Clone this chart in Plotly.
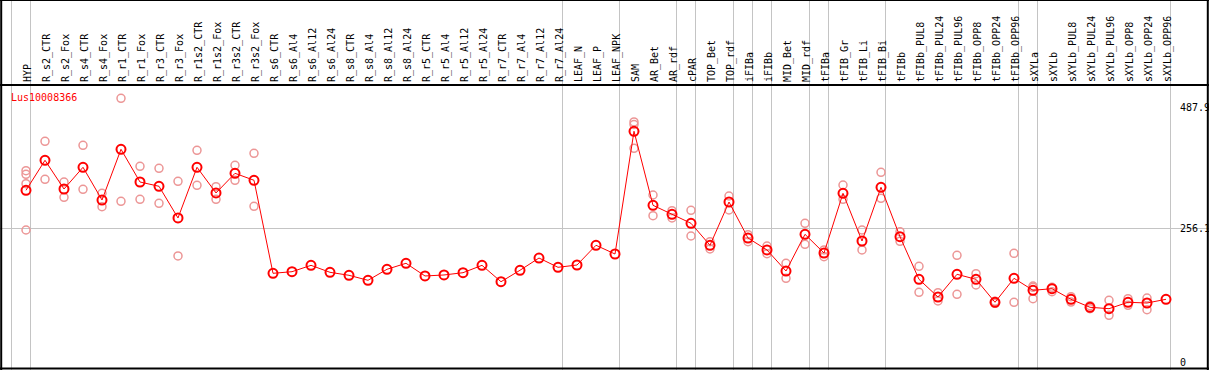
import plotly.graph_objects as go

categories = ["HYP", "R_s2_CTR", "R_s2_Fox", "R_s4_CTR", "R_s4_Fox", "R_r1_CTR", "R_r1_Fox",
              "R_r3_CTR", "R_r3_Fox", "R_r1s2_CTR", "R_r1s2_Fox", "R_r3s2_CTR", "R_r3s2_Fox",
              "R_s6_CTR", "R_s6_Al4", "R_s6_Al12", "R_s6_Al24", "R_s8_CTR", "R_s8_Al4",
              "R_s8_Al12", "R_s8_Al24", "R_r5_CTR", "R_r5_Al4", "R_r5_Al12", "R_r5_Al24",
              "R_r7_CTR", "R_r7_Al4", "R_r7_Al12", "R_r7_Al24", "LEAF_N", "LEAF_P", "LEAF_NPK",
              "SAM", "AR_Bet", "AR_rdf", "cPAR", "TOP_Bet", "TOP_rdf", "iFIBa", "iFIBb",
              "MID_Bet", "MID_rdf", "tFIBa", "tFIB_Gr", "tFIB_Li", "tFIB_Bi", "tFIBb",
              "tFIBb_PUL8", "tFIBb_PUL24", "tFIBb_PUL96", "tFIBb_OPP8", "tFIBb_OPP24",
              "tFIBb_OPP96", "sXYLa", "sXYLb", "sXYLb_PUL8", "sXYLb_PUL24", "sXYLb_PUL96",
              "sXYLb_OPP8", "sXYLb_OPP24", "sXYLb_OPP96"]

mean_values = [328.9, 386.4, 331.4, 373.0, 310.3, 407.5, 344.8, 336.6, 275.9, 373.0, 323.8,
               361.5, 348.1, 169.9, 173.0, 185.2, 171.8, 166.1, 156.5, 177.6, 189.1, 164.8,
               166.7, 171.1, 185.2, 153.8, 175.7, 199.2, 181.4, 185.8, 223.6, 206.9, 442.0,
               300.2, 283.0, 265.7, 223.6, 306.5, 237.5, 214.6, 174.3, 244.6, 208.8, 323.2,
               231.8, 334.7, 240.0, 158.4, 124.5, 168.0, 158.4, 114.4, 160.3, 137.4, 140.4,
               120.1, 104.8, 102.1, 114.4, 113.0, 120.1]

replicate_values = [
    [366.5, 359.6, 341.6, 252.9], [422.8, 350.0], [344.8, 315.5], [415.1, 330.8],
    [323.2, 297.5], [505.2, 307.9], [374.9, 311.7], [371.1, 304.0], [346.2, 203.1],
    [405.6, 338.5], [335.8, 311.7], [376.8, 348.1], [399.8, 298.3],
    [], [], [], [], [], [], [], [], [], [], [], [], [], [], [], [], [], [], [],
    [459.8, 455.0, 409.4], [319.9, 280.3], [289.8, 275.9], [290.6, 241.4], [230.5, 216.5],
    [318.0, 291.2], [243.9, 230.5], [222.2, 207.5], [189.1, 160.3], [265.7, 225.5],
    [214.6, 201.7], [339.1, 311.7], [252.9, 214.6], [363.4, 313.6], [249.6, 231.2],
    [183.3, 133.5], [132.8, 116.9], [204.4, 129.7], [169.2, 147.5], [116.3, 112.5],
    [208.2, 114.4], [145.6, 143.0, 121.3], [143.1, 134.7], [125.1, 114.9], [107.9, 102.1],
    [118.2, 89.5], [121.3, 108.6], [122.6, 100.2], [],
]

gene_id = "Lus10008366"
y_labels = [0, 256.1, 487.9]
group_breaks = [-1, 0, 28, 31, 34, 35, 37, 38, 39, 41, 42, 45, 52, 53, 60]

W, H = 1209, 370
TOP, BOT = 86, 1
col_w = 19.0
x0_px = 26.0
xr0 = -x0_px / col_w
xr1 = xr0 + W / col_w
px_per_unit = 0.522
y_zero_px = 362.0
plot_h = H - TOP - BOT
yr0 = -(H - BOT - y_zero_px) / px_per_unit
yr1 = (y_zero_px - TOP) / px_per_unit

rep_x, rep_y = [], []
for cat, reps in zip(categories, replicate_values):
    for r in reps:
        rep_x.append(cat)
        rep_y.append(r)

fig = go.Figure()
fig.add_trace(go.Scatter(
    x=rep_x, y=rep_y, mode="markers",
    marker=dict(symbol="circle-open", size=8, color="rgb(236,150,150)",
                line=dict(width=1.5, color="rgb(236,150,150)")),
    hoverinfo="x+y", showlegend=False))
fig.add_trace(go.Scatter(
    x=categories, y=mean_values, mode="lines+markers",
    line=dict(color="#ff0000", width=1),
    marker=dict(symbol="circle-open", size=9, color="#ff0000",
                line=dict(width=2, color="#ff0000")),
    showlegend=False))

shapes = []
top_paper = 1 + TOP / plot_h
bot_paper = -BOT / plot_h
for b in group_breaks:
    xv = b + 4.5 / col_w
    shapes.append(dict(type="line", xref="x", yref="paper", x0=xv, x1=xv,
                       y0=bot_paper, y1=top_paper, line=dict(color="#c4c4c4", width=1),
                       layer="below"))
# frame
shapes.append(dict(type="line", xref="paper", yref="paper", x0=0, x1=1, y0=1 + 1.0 / plot_h,
                   y1=1 + 1.0 / plot_h, line=dict(color="black", width=2)))
shapes.append(dict(type="line", xref="paper", yref="paper", x0=0, x1=1, y0=top_paper,
                   y1=top_paper, line=dict(color="black", width=2)))
shapes.append(dict(type="line", xref="paper", yref="paper", x0=0, x1=1, y0=0.5 / plot_h,
                   y1=0.5 / plot_h, line=dict(color="black", width=2)))
shapes.append(dict(type="line", xref="paper", yref="paper", x0=1.2 / W, x1=1.2 / W,
                   y0=bot_paper, y1=top_paper, line=dict(color="black", width=2)))
shapes.append(dict(type="line", xref="paper", yref="paper", x0=1 - 1.2 / W, x1=1 - 1.2 / W,
                   y0=bot_paper, y1=top_paper, line=dict(color="black", width=2)))

mono = "DejaVu Sans Mono"
annotations = [dict(text=gene_id, xref="paper", yref="paper", x=9 / W,
                    y=1 - (97.7 - TOP) / plot_h, xanchor="left", yanchor="middle",
                    showarrow=False, font=dict(family=mono, size=10, color="#ff0000"))]
for v in y_labels:
    annotations.append(dict(text=f"{v:g}", xref="paper", yref="y", x=1178 / W, y=v,
                            xanchor="left", yanchor="middle", showarrow=False,
                            font=dict(family=mono, size=10, color="black")))

fig.update_layout(
    width=W, height=H,
    margin=dict(l=0, r=0, t=TOP, b=BOT, pad=0),
    plot_bgcolor="white", paper_bgcolor="white",
    xaxis=dict(type="category", categoryorder="array", categoryarray=categories,
               range=[xr0, xr1], side="top", tickangle=-90, ticks="",
               ticklabelstandoff=3, ticklabelshift=2,
               tickfont=dict(family=mono, size=10, color="black"),
               showgrid=False, zeroline=False, showline=False, fixedrange=True),
    yaxis=dict(range=[yr0, yr1], tickvals=[y_labels[1]], showticklabels=False,
               showgrid=True, gridcolor="#c4c4c4", gridwidth=1, zeroline=False,
               showline=False, ticks="", fixedrange=True),
    shapes=shapes, annotations=annotations,
    hovermode="closest",
)

fig.write_html("out.html", config={"displayModeBar": False},
               post_script="document.body.style.margin='0';document.body.style.padding='0';")
